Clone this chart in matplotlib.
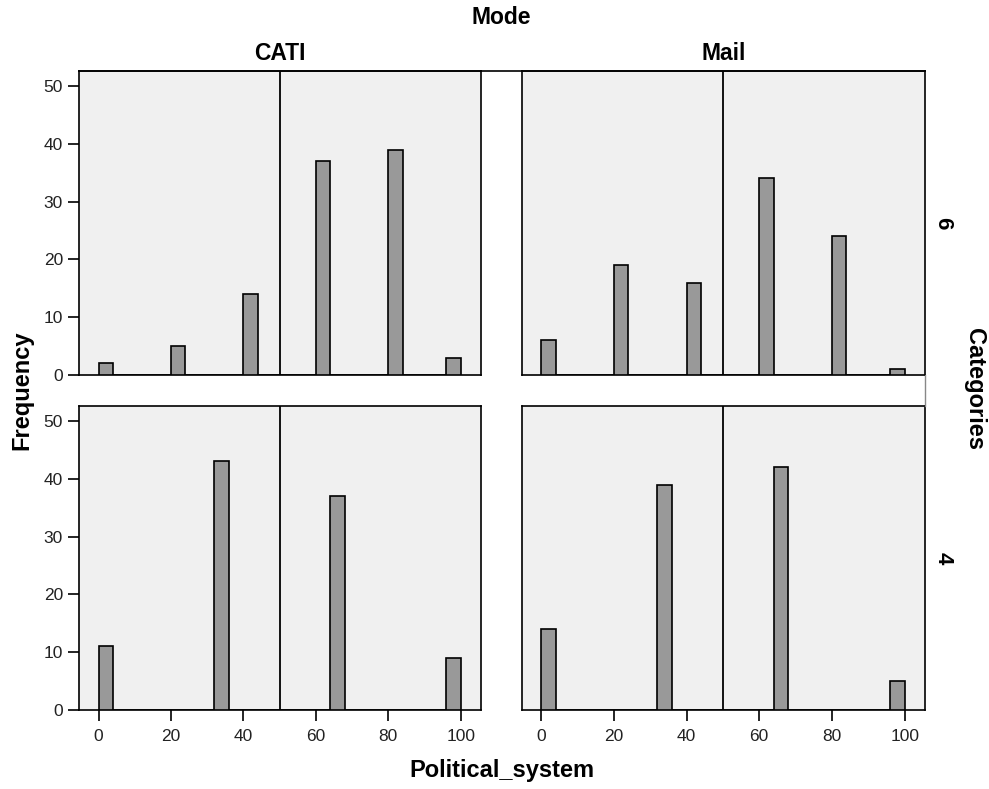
import numpy as np
import matplotlib
matplotlib.use("Agg")
from matplotlib import pyplot as plt
from matplotlib.lines import Line2D

plt.rcParams['font.family'] = ['Liberation Sans', 'DejaVu Sans']

# data
modes = ['CATI', 'Mail']
categories = ['6', '4']
scores_6 = [0, 20, 40, 60, 80, 100]
scores_4 = [0, 33.33, 66.67, 100]
counts = {
    ('6', 'CATI'): [2, 5, 14, 37, 39, 3],
    ('6', 'Mail'): [6, 19, 16, 34, 24, 1],
    ('4', 'CATI'): [11, 43, 37, 9],
    ('4', 'Mail'): [14, 39, 42, 5],
}
bin_edges = np.arange(0, 101, 4)
x_ticks = [0, 20, 40, 60, 80, 100]
y_ticks = [0, 10, 20, 30, 40, 50]

fig = plt.figure(figsize=(9.89, 7.89), dpi=100)
W, H = 989, 789

def px_box(x0, y0, x1, y1):
    return [x0 / W, 1 - y1 / H, (x1 - x0) / W, (y1 - y0) / H]

cols_px = [(79, 481), (521.5, 925)]
rows_px = [(71, 375), (406, 710)]
bold = dict(fontweight='bold', ha='center', va='center')

for r, cat in enumerate(categories):
    scores = scores_6 if cat == '6' else scores_4
    for c, mode in enumerate(modes):
        ax = fig.add_axes(px_box(cols_px[c][0], rows_px[r][0], cols_px[c][1], rows_px[r][1]))
        ax.set_facecolor('#f0f0f0')
        ax.hist(scores, bins=bin_edges, weights=counts[(cat, mode)],
                color='#999999', edgecolor='black', linewidth=1.2, zorder=3)
        ax.axvline(50, color='black', linewidth=1.3, zorder=2)
        ax.set_xlim(-5.4, 105.6)
        ax.set_ylim(0, 52.6)
        for s in ax.spines.values():
            s.set_color('black')
            s.set_linewidth(1.2)
        ax.tick_params(direction='out', length=8, width=1.2, labelsize=12.5,
                       colors='black', labelcolor='#222222')
        ax.tick_params(axis='x', pad=6)
        ax.set_xticks(x_ticks)
        ax.set_yticks(y_ticks)
        if r == 0:
            ax.tick_params(axis='x', bottom=False, labelbottom=False)
            cx = (cols_px[c][0] + cols_px[c][1]) / 2
            fig.text(cx / W, 1 - 53 / H, mode, fontsize=16.5, **bold)
        if c == 1:
            ax.tick_params(axis='y', left=False, labelleft=False)
            cy = (rows_px[r][0] + rows_px[r][1]) / 2
            fig.text(943 / W, 1 - cy / H, cat, rotation=-90, fontsize=16, **bold)

# outer frame bits crossing the gaps
fig.add_artist(Line2D([79 / W, 925 / W], [1 - 71 / H, 1 - 71 / H], color='black', linewidth=1.2))
fig.add_artist(Line2D([925 / W, 925 / W], [1 - 375 / H, 1 - 406 / H], color='#888888', linewidth=1.0))

fig.text(501 / W, 1 - 18 / H, 'Mode', fontsize=16.5, **bold)
fig.text(502 / W, 1 - 771 / H, 'Political_system', fontsize=17, **bold)
fig.text(22 / W, 1 - 390 / H, 'Frequency', rotation=90, fontsize=17, **bold)
fig.text(975 / W, 1 - 389 / H, 'Categories', rotation=-90, fontsize=17, **bold)

fig.savefig('out.png', dpi=100)
